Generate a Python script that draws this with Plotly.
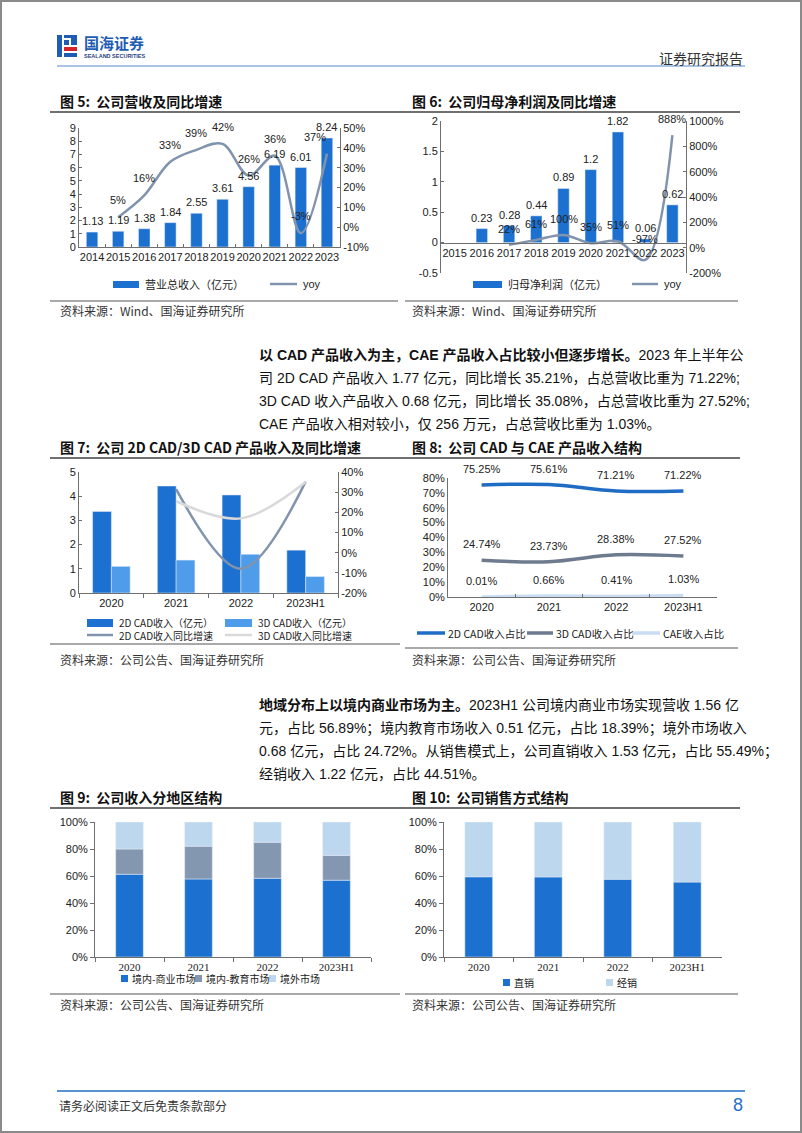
import plotly.graph_objects as go

W, H = 802, 1133
def X(px): return px / W
def Y(py): return 1 - py / H

FONT = "Liberation Sans, Arial, Noto Sans CJK SC, sans-serif"
CJK = "Noto Sans CJK SC, Liberation Sans, sans-serif"
SERIF = "Liberation Serif, Noto Sans CJK SC, serif"

# ---------------- data ----------------
years5 = ['2014', '2015', '2016', '2017', '2018', '2019', '2020', '2021', '2022', '2023']
revenue5 = [1.13, 1.19, 1.38, 1.84, 2.55, 3.61, 4.56, 6.19, 6.01, 8.24]
yoy5_years = ['2015', '2016', '2017', '2018', '2019', '2020', '2021', '2022', '2023']
yoy5 = [5, 16, 33, 39, 42, 26, 36, -3, 37]
y5_right_ticks = [-10, 0, 10, 20, 30, 40, 50]
y5_right_text = ['-10%', '0%', '10%', '20%', '30%', '40%', '50%']

years6 = ['2015', '2016', '2017', '2018', '2019', '2020', '2021', '2022', '2023']
profit6 = [None, 0.23, 0.28, 0.44, 0.89, 1.2, 1.82, 0.06, 0.62]
yoy6_years = ['2017', '2018', '2019', '2020', '2021', '2022', '2023']
yoy6 = [22, 61, 100, 35, 51, -97, 888]
y6_left_ticks = [-0.5, 0, 0.5, 1, 1.5, 2]
y6_left_text = ['-0.5', '0', '0.5', '1', '1.5', '2']
y6_right_ticks = [-200, 0, 200, 400, 600, 800, 1000]
y6_right_text = ['-200%', '0%', '200%', '400%', '600%', '800%', '1000%']

cats7 = ['2020', '2021', '2022', '2023H1']
cad2d_rev = [3.37, 4.42, 4.05, 1.77]
cad3d_rev = [1.10, 1.36, 1.60, 0.68]
yoy7_cats = ['2021', '2022', '2023H1']
cad2d_yoy = [31.5, -8.0, 35.21]
cad3d_yoy = [25.5, 17.0, 35.08]
y7_right_ticks = [-20, -10, 0, 10, 20, 30, 40]
y7_right_text = ['-20%', '-10%', '0%', '10%', '20%', '30%', '40%']

cats8 = ['2020', '2021', '2022', '2023H1']
share_2d = [75.25, 75.61, 71.21, 71.22]
share_3d = [24.74, 23.73, 28.38, 27.52]
share_cae = [0.01, 0.66, 0.41, 1.03]

cats9 = ['2020', '2021', '2022', '2023H1']
dom_commercial = [61.3, 57.8, 58.3, 56.89]
dom_education = [18.7, 24.3, 26.7, 18.39]
overseas = [20.0, 17.9, 15.0, 24.72]

cats10 = ['2020', '2021', '2022', '2023H1']
direct_sales = [59.4, 59.3, 57.6, 55.49]
dist_sales = [40.6, 40.7, 42.4, 44.51]

pct_ticks = [0, 20, 40, 60, 80, 100]
pct_text = ['0%', '20%', '40%', '60%', '80%', '100%']

# ---------------- colours ----------------
BLUE = '#1C70D0'
BLUE2 = '#4F9DEA'
GRAYBLUE = '#8193AD'
LIGHTGRAY = '#D9D9D9'
LIGHTBLUE = '#BDD7EE'
AX = '#6f6f6f'
TXT = '#222222'

fig = go.Figure()

# chart 5
fig.add_trace(go.Bar(x=years5, y=revenue5, xaxis='x', yaxis='y', marker_color=BLUE,
                     width=0.44, offset=-0.22, showlegend=False, hoverinfo='skip'))
fig.add_trace(go.Scatter(x=yoy5_years, y=yoy5, xaxis='x', yaxis='y2', mode='lines',
                         line=dict(color=GRAYBLUE, width=2.5, shape='spline'), showlegend=False))
# chart 6
fig.add_trace(go.Bar(x=years6, y=profit6, xaxis='x2', yaxis='y3', marker_color=BLUE,
                     width=0.42, offset=-0.21, showlegend=False))
fig.add_trace(go.Scatter(x=yoy6_years, y=yoy6, xaxis='x2', yaxis='y4', mode='lines',
                         line=dict(color=GRAYBLUE, width=2.5, shape='spline'), showlegend=False))
# chart 7
fig.add_trace(go.Bar(x=cats7, y=cad2d_rev, xaxis='x3', yaxis='y5', marker_color=BLUE,
                     width=0.29, offset=-0.29, showlegend=False))
fig.add_trace(go.Bar(x=cats7, y=cad3d_rev, xaxis='x3', yaxis='y5', marker_color=BLUE2,
                     width=0.29, offset=0.0, showlegend=False))
fig.add_trace(go.Scatter(x=yoy7_cats, y=cad2d_yoy, xaxis='x3', yaxis='y6', mode='lines',
                         line=dict(color=GRAYBLUE, width=2.5, shape='spline'), showlegend=False))
fig.add_trace(go.Scatter(x=yoy7_cats, y=cad3d_yoy, xaxis='x3', yaxis='y6', mode='lines',
                         line=dict(color=LIGHTGRAY, width=2.5, shape='spline'), showlegend=False))
# chart 8
fig.add_trace(go.Scatter(x=cats8, y=share_2d, xaxis='x4', yaxis='y7', mode='lines',
                         line=dict(color='#1E6CC4', width=3.5, shape='spline'), showlegend=False))
fig.add_trace(go.Scatter(x=cats8, y=share_3d, xaxis='x4', yaxis='y7', mode='lines',
                         line=dict(color='#6E7B8E', width=3.5, shape='spline'), showlegend=False))
fig.add_trace(go.Scatter(x=cats8, y=share_cae, xaxis='x4', yaxis='y7', mode='lines',
                         line=dict(color='#C9DCF2', width=3.5, shape='spline'), showlegend=False))
# chart 9 (stacked via base)
base_edu = [a for a in dom_commercial]
base_over = [a + b for a, b in zip(dom_commercial, dom_education)]
fig.add_trace(go.Bar(x=cats9, y=dom_commercial, base=[0] * len(cats9), xaxis='x5', yaxis='y8',
                     marker_color=BLUE, width=0.4, offset=-0.2, showlegend=False))
fig.add_trace(go.Bar(x=cats9, y=dom_education, base=base_edu, xaxis='x5', yaxis='y8',
                     marker_color='#8497B0', width=0.4, offset=-0.2, showlegend=False))
fig.add_trace(go.Bar(x=cats9, y=overseas, base=base_over, xaxis='x5', yaxis='y8',
                     marker_color=LIGHTBLUE, width=0.4, offset=-0.2, showlegend=False))
# chart 10
fig.add_trace(go.Bar(x=cats10, y=direct_sales, base=[0] * len(cats10), xaxis='x6', yaxis='y9',
                     marker_color=BLUE, width=0.4, offset=-0.2, showlegend=False))
fig.add_trace(go.Bar(x=cats10, y=dist_sales, base=direct_sales, xaxis='x6', yaxis='y9',
                     marker_color=LIGHTBLUE, width=0.4, offset=-0.2, showlegend=False))

ann = []
shapes = []

def label(xref, yref, allcats, cats, vals, fmt, yshift, size=11, xshift_last=0, neg_extra=0):
    n = len(cats)
    for i, (c, v) in enumerate(zip(cats, vals)):
        if v is None:
            continue
        ann.append(dict(x=allcats.index(c), y=v, xref=xref, yref=yref, text=fmt(v), showarrow=False,
                        yshift=yshift + (neg_extra if v < 0 else 0),
                        xshift=(xshift_last if i == n - 1 else 0),
                        font=dict(size=size, color=TXT, family=FONT)))

label('x', 'y', years5, years5, revenue5, lambda v: f'{v}', 11)
label('x', 'y2', years5, yoy5_years, yoy5, lambda v: f'{v}%', 17, xshift_last=-12)
label('x2', 'y3', years6, years6, profit6, lambda v: f'{v}', 11)
label('x2', 'y4', years6, yoy6_years, yoy6, lambda v: f'{v}%', 16, neg_extra=5)
label('x4', 'y7', cats8, cats8, share_2d, lambda v: f'{v:.2f}%', 16)
label('x4', 'y7', cats8, cats8, share_3d, lambda v: f'{v:.2f}%', 16)
label('x4', 'y7', cats8, cats8, share_cae, lambda v: f'{v:.2f}%', 16)

def txt(x, y, s, size=12, color=TXT, anchor='left', family=CJK):
    ann.append(dict(x=X(x), y=Y(y), xref='paper', yref='paper', text=s, showarrow=False,
                    xanchor=anchor, yanchor='middle', font=dict(size=size, color=color, family=family)))

def hline(x0, x1, y, color, width):
    shapes.append(dict(type='line', xref='paper', yref='paper', x0=X(x0), x1=X(x1), y0=Y(y), y1=Y(y),
                       line=dict(color=color, width=width)))

def rect(x0, x1, y0, y1, color):
    shapes.append(dict(type='rect', xref='paper', yref='paper', x0=X(x0), x1=X(x1), y0=Y(y1), y1=Y(y0),
                       fillcolor=color, line=dict(width=0)))

# page frame
shapes.append(dict(type='rect', xref='paper', yref='paper', x0=X(1), x1=X(801), y0=Y(1132), y1=Y(1),
                   line=dict(color='#8a8a8a', width=2)))

# header logo
rect(57, 62, 35, 57, '#1F5CB4')
rect(64, 77, 35, 38, '#1F5CB4')
rect(71, 77, 38, 45, '#1F5CB4')
rect(64, 69, 40, 45, '#1F5CB4')
rect(64, 77, 47, 51, '#D8232A')
rect(64, 77, 53, 57, '#1F5CB4')
txt(82, 43, '<b>国海证券</b>', 15, '#1F5CB4')
txt(82, 56, '<b>SEALAND SECURITIES</b>', 5.5, '#1F3F80', family=FONT)
txt(745, 58, '证券研究报告', 14, '#333333', anchor='right')
hline(57, 745, 66, '#A9C4E6', 2)

# titles
hline(50, 740, 112, '#404040', 1.5)
txt(58, 101, '<b>图 5:  公司营收及同比增速</b>', 14, '#111')
txt(410, 101, '<b>图 6:  公司归母净利润及同比增速</b>', 14, '#111')
hline(50, 740, 458, '#404040', 1.5)
txt(58, 447, '<b>图 7:  公司 2D CAD/3D CAD 产品收入及同比增速</b>', 14, '#111')
txt(410, 447, '<b>图 8:  公司 CAD 与 CAE 产品收入结构</b>', 14, '#111')
hline(50, 740, 808, '#404040', 1.5)
txt(58, 797, '<b>图 9:  公司收入分地区结构</b>', 14, '#111')
txt(410, 797, '<b>图 10:  公司销售方式结构</b>', 14, '#111')

# paragraphs
para1 = ['<b>以 CAD 产品收入为主，CAE 产品收入占比较小但逐步增长。</b>2023 年上半年公',
         '司 2D CAD 产品收入 1.77 亿元，同比增长 35.21%，占总营收比重为 71.22%;',
         '3D CAD 收入产品收入 0.68 亿元，同比增长 35.08%，占总营收比重为 27.52%;',
         'CAE 产品收入相对较小，仅 256 万元，占总营收比重为 1.03%。']
for i, s in enumerate(para1):
    txt(257, 355 + 23 * i, s, 14, '#111', family=FONT)
para2 = ['<b>地域分布上以境内商业市场为主。</b>2023H1 公司境内商业市场实现营收 1.56 亿',
         '元，占比 56.89%；境内教育市场收入 0.51 亿元，占比 18.39%；境外市场收入',
         '0.68 亿元，占比 24.72%。从销售模式上，公司直销收入 1.53 亿元，占比 55.49%；',
         '经销收入 1.22 亿元，占比 44.51%。']
for i, s in enumerate(para2):
    txt(257, 705 + 23 * i, s, 14, '#111', family=FONT)

# legends chart 5/6
rect(113, 139, 281, 288, BLUE); txt(143, 284, '营业总收入（亿元）', 11)
hline(270, 297, 284, GRAYBLUE, 2.5); txt(301, 284, 'yoy', 11, family=FONT)
rect(473, 502, 281, 288, BLUE); txt(506, 284, '归母净利润（亿元）', 11)
hline(632, 658, 284, GRAYBLUE, 2.5); txt(662, 284, 'yoy', 11, family=FONT)
# legends chart 7
rect(87, 113, 619, 627, BLUE); txt(117, 622, '2D CAD收入（亿元）', 10)
rect(225, 252, 619, 627, BLUE2); txt(256, 622, '3D CAD收入（亿元）', 10)
hline(87, 113, 635, GRAYBLUE, 2.5); txt(117, 635, '2D CAD收入同比增速', 10)
hline(225, 252, 635, LIGHTGRAY, 2.5); txt(256, 635, '3D CAD收入同比增速', 10)
# legends chart 8
hline(417, 445, 633, '#1E6CC4', 3.5); txt(446, 633, '2D CAD收入占比', 10.5)
hline(527, 553, 633, '#6E7B8E', 3.5); txt(554, 633, '3D CAD收入占比', 10.5)
hline(632, 660, 633, '#C9DCF2', 3.5); txt(661, 633, 'CAE收入占比', 10.5)
# legends chart 9
rect(121, 128, 975, 982, BLUE); txt(130, 978, '境内-商业市场', 10)
rect(195, 202, 975, 982, '#8497B0'); txt(204, 978, '境内-教育市场', 10)
rect(269, 276, 975, 982, LIGHTBLUE); txt(278, 978, '境外市场', 10)
# legends chart 10
rect(503, 510, 979, 986, BLUE); txt(512, 982, '直销', 10)
rect(606, 613, 979, 986, LIGHTBLUE); txt(615, 982, '经销', 10)

# source lines
hline(50, 398, 301, '#8c8c8c', 1.5); txt(58, 310, '资料来源：Wind、国海证券研究所', 12, '#333')
hline(405, 738, 301, '#8c8c8c', 1.5); txt(410, 310, '资料来源：Wind、国海证券研究所', 12, '#333')
hline(50, 400, 644, '#8c8c8c', 1.5); txt(58, 659, '资料来源：公司公告、国海证券研究所', 12, '#333')
hline(405, 738, 648, '#8c8c8c', 1.5); txt(410, 659, '资料来源：公司公告、国海证券研究所', 12, '#333')
hline(50, 400, 994, '#8c8c8c', 1.5); txt(58, 1004, '资料来源：公司公告、国海证券研究所', 12, '#333')
hline(405, 738, 994, '#8c8c8c', 1.5); txt(410, 1004, '资料来源：公司公告、国海证券研究所', 12, '#333')

# footer
hline(57, 745, 1091, '#1F6FC5', 1.5)
txt(57, 1105, '请务必阅读正文后免责条款部分', 12, '#333')
txt(745, 1105, '8', 18, '#1F6FC5', anchor='right', family=FONT)

tf = dict(size=11, color=TXT, family=FONT)
def xax(d, anchor, cats, **kw):
    a = dict(domain=[X(d[0]), X(d[1])], anchor=anchor, type='category', categoryorder='array',
             categoryarray=cats, range=[-0.5, len(cats) - 0.5], autorange=False,
             showline=True, linecolor=AX, linewidth=1, showgrid=False,
             zeroline=False, tickfont=tf, fixedrange=True, automargin=False, tickangle=0)
    a.update(kw)
    return a

def yax(d, anchor, rng, **kw):
    a = dict(domain=[Y(d[1]), Y(d[0])], anchor=anchor, range=rng, autorange=False, showline=True,
             linecolor=AX, linewidth=1, showgrid=False, zeroline=False, tickfont=tf, ticks='inside',
             ticklen=3, tickcolor=AX, automargin=False, fixedrange=True)
    a.update(kw)
    return a

layout = dict(
    width=W, height=H, autosize=False, margin=dict(l=0, r=0, t=0, b=0, pad=0, autoexpand=False),
    paper_bgcolor='white', plot_bgcolor='rgba(0,0,0,0)', showlegend=False, barmode='group',
    xaxis=xax((79, 340), 'y', years5, ticks='inside', tickson='boundaries', ticklen=3, tickcolor=AX),
    yaxis=yax((128, 247), 'x', [0, 9], dtick=1),
    yaxis2=yax((128, 247), 'x', [-10, 50], overlaying='y', side='right',
               tickvals=y5_right_ticks, ticktext=y5_right_text),
    xaxis2=xax((441, 686), 'free', years6, position=Y(242.6)),
    yaxis3=yax((121, 273), 'x2', [-0.5, 2], tickvals=y6_left_ticks, ticktext=y6_left_text),
    yaxis4=yax((121, 273), 'x2', [-200, 1000], overlaying='y3', side='right',
               tickvals=y6_right_ticks, ticktext=y6_right_text),
    xaxis3=xax((79, 338), 'y5', cats7, ticks='outside', tickson='boundaries', ticklen=4, tickcolor=AX),
    yaxis5=yax((472, 593), 'x3', [0, 5], dtick=1),
    yaxis6=yax((472, 593), 'x3', [-20, 40], overlaying='y5', side='right',
               tickvals=y7_right_ticks, ticktext=y7_right_text),
    xaxis4=xax((448, 717), 'y7', cats8, ticks='inside', tickson='boundaries', ticklen=3, tickcolor=AX),
    yaxis7=yax((478, 597), 'x4', [0, 80], dtick=10, ticksuffix='%', ticks=''),
    xaxis5=xax((95, 371), 'y8', cats9, ticks='outside', tickson='boundaries', ticklen=4, tickcolor=AX,
               tickfont=dict(size=11, color=TXT, family=SERIF)),
    yaxis8=yax((822, 957), 'x5', [0, 100], tickvals=pct_ticks, ticktext=pct_text, ticks='outside', ticklen=4),
    xaxis6=xax((444, 722), 'y9', cats10, ticks='outside', tickson='boundaries', ticklen=4, tickcolor=AX,
               tickfont=dict(size=11, color=TXT, family=SERIF)),
    yaxis9=yax((822, 957), 'x6', [0, 100], tickvals=pct_ticks, ticktext=pct_text, ticks='outside', ticklen=4),
    annotations=ann, shapes=shapes,
)
fig.update_layout(**layout)
fig.write_html('out.html', config={'displayModeBar': False, 'staticPlot': True},
               post_script="document.body.style.margin='0';document.body.style.overflow='hidden';")
